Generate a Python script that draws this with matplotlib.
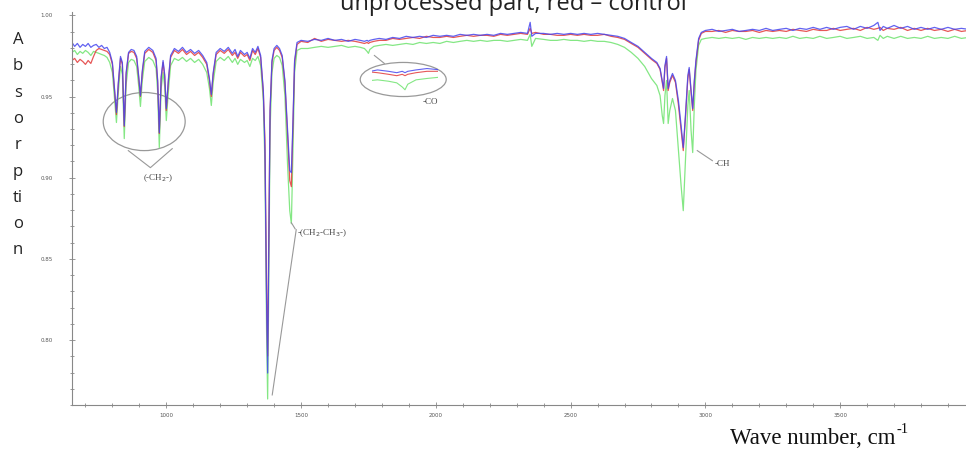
import matplotlib
matplotlib.use("Agg")
import matplotlib.pyplot as plt
from matplotlib.patches import Ellipse
from matplotlib.ticker import MultipleLocator, FormatStrFormatter

# wave numbers, cm-1
wave = [650, 660, 670, 680, 690, 700, 710, 720, 730, 740, 750, 760, 770, 780, 790,
        800, 808, 815, 822, 830, 837, 844, 851, 860, 870, 880, 890, 897, 904, 911,
        920, 935, 950, 962, 968, 974, 981, 988, 994, 1000, 1008, 1016, 1030, 1045,
        1060, 1075, 1090, 1105, 1120, 1135, 1150, 1160, 1167, 1174, 1185, 1200, 1215,
        1230, 1245, 1255, 1265, 1275, 1290, 1300, 1310, 1320, 1330, 1340, 1350, 1360,
        1366, 1372, 1376, 1380, 1385, 1392, 1400, 1410, 1420, 1430, 1440, 1450, 1458,
        1464, 1470, 1476, 1485, 1500, 1525, 1550, 1575, 1600, 1625, 1650, 1675, 1700,
        1720, 1735, 1745, 1750, 1755, 1770, 1790, 1815, 1840, 1865, 1890, 1915, 1940,
        1965, 1990, 2015, 2040, 2065, 2090, 2115, 2140, 2165, 2190, 2215, 2240, 2265,
        2290, 2315, 2340, 2350, 2356, 2370, 2400, 2425, 2450, 2475, 2500, 2525, 2550,
        2575, 2600, 2625, 2650, 2675, 2700, 2725, 2750, 2775, 2800, 2820, 2832, 2840,
        2845, 2850, 2856, 2862, 2868, 2878, 2889, 2900, 2910, 2918, 2926, 2935, 2940,
        2947, 2953, 2959, 2965, 2975, 2985, 3000, 3025, 3050, 3075, 3100, 3125, 3150,
        3175, 3200, 3225, 3250, 3275, 3300, 3325, 3350, 3375, 3400, 3425, 3450, 3475,
        3500, 3525, 3550, 3575, 3600, 3625, 3640, 3648, 3660, 3675, 3700, 3725, 3750,
        3775, 3800, 3825, 3850, 3875, 3900, 3925, 3950, 3975]

# blue - processed part
blue = [0.9833, 0.9809, 0.9827, 0.9803, 0.9821, 0.9809, 0.9827, 0.9803, 0.9815, 0.9821,
        0.9803, 0.9815, 0.9796, 0.9803, 0.9772, 0.9710, 0.9550, 0.9402, 0.9587, 0.9747,
        0.9710, 0.9321, 0.9648, 0.9772, 0.9790, 0.9784, 0.9747, 0.9636, 0.9506, 0.9660,
        0.9778, 0.9803, 0.9784, 0.9735, 0.9599, 0.9278, 0.9624, 0.9722, 0.9636, 0.9426,
        0.9611, 0.9753, 0.9796, 0.9778, 0.9803, 0.9772, 0.9790, 0.9766, 0.9784, 0.9753,
        0.9710, 0.9611, 0.9513, 0.9648, 0.9772, 0.9796, 0.9778, 0.9803, 0.9766, 0.9790,
        0.9747, 0.9784, 0.9759, 0.9772, 0.9735, 0.9796, 0.9772, 0.9809, 0.9753, 0.9537,
        0.9167, 0.8242, 0.7797, 0.8550, 0.9414, 0.9722, 0.9796, 0.9815, 0.9796, 0.9753,
        0.9599, 0.9290, 0.9044, 0.9031, 0.9352, 0.9722, 0.9833, 0.9846, 0.9840, 0.9852,
        0.9846, 0.9858, 0.9846, 0.9852, 0.9840, 0.9852, 0.9846, 0.9840, 0.9846, 0.9840,
        0.9846, 0.9852, 0.9858, 0.9852, 0.9864, 0.9858, 0.9871, 0.9864, 0.9871, 0.9864,
        0.9877, 0.9871, 0.9877, 0.9871, 0.9883, 0.9877, 0.9883, 0.9877, 0.9883, 0.9877,
        0.9889, 0.9883, 0.9889, 0.9895, 0.9889, 0.9957, 0.9871, 0.9889, 0.9889, 0.9883,
        0.9889, 0.9883, 0.9889, 0.9883, 0.9889, 0.9883, 0.9889, 0.9883, 0.9877, 0.9871,
        0.9858, 0.9833, 0.9809, 0.9772, 0.9735, 0.9710, 0.9673, 0.9599, 0.9550, 0.9691,
        0.9747, 0.9550, 0.9599, 0.9642, 0.9599, 0.9475, 0.9321, 0.9186, 0.9383, 0.9630,
        0.9679, 0.9537, 0.9426, 0.9599, 0.9722, 0.9858, 0.9895, 0.9907, 0.9914, 0.9901,
        0.9907, 0.9914, 0.9901, 0.9907, 0.9914, 0.9907, 0.9920, 0.9907, 0.9914, 0.9920,
        0.9907, 0.9920, 0.9914, 0.9926, 0.9914, 0.9926, 0.9914, 0.9926, 0.9932, 0.9914,
        0.9932, 0.9920, 0.9938, 0.9957, 0.9907, 0.9932, 0.9920, 0.9938, 0.9920, 0.9932,
        0.9914, 0.9926, 0.9914, 0.9926, 0.9914, 0.9926, 0.9914, 0.9920, 0.9914]

# red - control
red = [0.9722, 0.9735, 0.9710, 0.9729, 0.9716, 0.9698, 0.9722, 0.9704, 0.9747, 0.9784,
       0.9796, 0.9790, 0.9784, 0.9778, 0.9759, 0.9698, 0.9537, 0.9389, 0.9574, 0.9735,
       0.9698, 0.9315, 0.9636, 0.9766, 0.9778, 0.9772, 0.9735, 0.9624, 0.9500, 0.9648,
       0.9766, 0.9790, 0.9772, 0.9722, 0.9587, 0.9272, 0.9611, 0.9710, 0.9624, 0.9414,
       0.9599, 0.9741, 0.9784, 0.9766, 0.9790, 0.9759, 0.9778, 0.9753, 0.9772, 0.9741,
       0.9698, 0.9599, 0.9500, 0.9636, 0.9759, 0.9784, 0.9766, 0.9790, 0.9753, 0.9772,
       0.9735, 0.9772, 0.9747, 0.9759, 0.9722, 0.9784, 0.9759, 0.9796, 0.9741, 0.9525,
       0.9229, 0.8303, 0.7902, 0.8612, 0.9414, 0.9710, 0.9784, 0.9803, 0.9784, 0.9741,
       0.9587, 0.9260, 0.8982, 0.8945, 0.9321, 0.9710, 0.9821, 0.9840, 0.9833, 0.9858,
       0.9840, 0.9852, 0.9846, 0.9840, 0.9846, 0.9840, 0.9833, 0.9827, 0.9833, 0.9827,
       0.9833, 0.9840, 0.9846, 0.9846, 0.9858, 0.9852, 0.9858, 0.9864, 0.9858, 0.9871,
       0.9864, 0.9864, 0.9871, 0.9864, 0.9871, 0.9877, 0.9871, 0.9877, 0.9877, 0.9871,
       0.9883, 0.9877, 0.9883, 0.9889, 0.9883, 0.9920, 0.9889, 0.9895, 0.9883, 0.9883,
       0.9877, 0.9877, 0.9883, 0.9877, 0.9883, 0.9877, 0.9877, 0.9883, 0.9871, 0.9864,
       0.9852, 0.9827, 0.9803, 0.9766, 0.9729, 0.9704, 0.9667, 0.9587, 0.9537, 0.9679,
       0.9735, 0.9537, 0.9587, 0.9630, 0.9587, 0.9451, 0.9290, 0.9167, 0.9365, 0.9611,
       0.9667, 0.9525, 0.9414, 0.9587, 0.9710, 0.9846, 0.9889, 0.9901, 0.9901, 0.9907,
       0.9895, 0.9907, 0.9901, 0.9901, 0.9907, 0.9895, 0.9907, 0.9901, 0.9907, 0.9901,
       0.9914, 0.9907, 0.9901, 0.9914, 0.9907, 0.9907, 0.9920, 0.9907, 0.9914, 0.9920,
       0.9907, 0.9926, 0.9914, 0.9920, 0.9926, 0.9907, 0.9920, 0.9914, 0.9926, 0.9907,
       0.9920, 0.9907, 0.9920, 0.9907, 0.9914, 0.9901, 0.9914, 0.9901, 0.9907]

# green - unprocessed part
green = [0.9772, 0.9784, 0.9759, 0.9778, 0.9766, 0.9784, 0.9772, 0.9753, 0.9778, 0.9772,
         0.9766, 0.9759, 0.9753, 0.9741, 0.9710, 0.9648, 0.9488, 0.9340, 0.9525, 0.9685,
         0.9636, 0.9241, 0.9574, 0.9710, 0.9729, 0.9722, 0.9685, 0.9574, 0.9439, 0.9599,
         0.9716, 0.9741, 0.9722, 0.9673, 0.9525, 0.9186, 0.9550, 0.9648, 0.9562, 0.9352,
         0.9537, 0.9691, 0.9735, 0.9722, 0.9741, 0.9716, 0.9735, 0.9710, 0.9729, 0.9698,
         0.9648, 0.9550, 0.9445, 0.9587, 0.9716, 0.9741, 0.9722, 0.9747, 0.9710, 0.9735,
         0.9698, 0.9729, 0.9710, 0.9722, 0.9685, 0.9735, 0.9722, 0.9747, 0.9691, 0.9475,
         0.9075, 0.8057, 0.7637, 0.8303, 0.9290, 0.9648, 0.9735, 0.9753, 0.9741, 0.9691,
         0.9506, 0.9075, 0.8797, 0.8717, 0.9167, 0.9648, 0.9784, 0.9796, 0.9796, 0.9803,
         0.9809, 0.9803, 0.9809, 0.9815, 0.9803, 0.9809, 0.9803, 0.9796, 0.9778, 0.9766,
         0.9790, 0.9809, 0.9815, 0.9821, 0.9815, 0.9821, 0.9827, 0.9821, 0.9833, 0.9827,
         0.9833, 0.9827, 0.9840, 0.9833, 0.9840, 0.9846, 0.9840, 0.9846, 0.9840, 0.9846,
         0.9846, 0.9840, 0.9846, 0.9852, 0.9846, 0.9883, 0.9809, 0.9858, 0.9852, 0.9846,
         0.9846, 0.9852, 0.9846, 0.9846, 0.9840, 0.9846, 0.9840, 0.9840, 0.9833, 0.9821,
         0.9803, 0.9772, 0.9735, 0.9685, 0.9611, 0.9568, 0.9506, 0.9383, 0.9334, 0.9506,
         0.9599, 0.9334, 0.9414, 0.9488, 0.9414, 0.9167, 0.8951, 0.8797, 0.9105, 0.9445,
         0.9537, 0.9290, 0.9155, 0.9445, 0.9660, 0.9815, 0.9852, 0.9858, 0.9864, 0.9858,
         0.9864, 0.9858, 0.9864, 0.9852, 0.9864, 0.9858, 0.9864, 0.9858, 0.9864, 0.9858,
         0.9871, 0.9858, 0.9864, 0.9858, 0.9871, 0.9858, 0.9864, 0.9871, 0.9858, 0.9864,
         0.9871, 0.9858, 0.9864, 0.9846, 0.9877, 0.9858, 0.9871, 0.9858, 0.9871, 0.9858,
         0.9864, 0.9858, 0.9871, 0.9858, 0.9864, 0.9858, 0.9871, 0.9858, 0.9864]

letters = ["A", "b", "s", "o", "r", "p", "ti", "o", "n"]

fig = plt.figure(figsize=(9.66, 4.49), dpi=100)
ax = fig.add_axes([0.0745, 0.098, 0.9255, 0.875])

for ys, col in [(green, "#6fe36f"), (red, "#e23a3a"), (blue, "#4646ee")]:
    ax.plot(wave, ys, color=col, lw=0.9, alpha=0.85)

ax.set_xlim(650, 3967)
ax.set_ylim(0.76, 1.002)
for s in ["top", "right"]:
    ax.spines[s].set_visible(False)
for s in ["left", "bottom"]:
    ax.spines[s].set_color("#888888")
    ax.spines[s].set_linewidth(0.8)
ax.xaxis.set_major_locator(MultipleLocator(500))
ax.xaxis.set_minor_locator(MultipleLocator(100))
ax.yaxis.set_major_locator(MultipleLocator(0.05))
ax.yaxis.set_minor_locator(MultipleLocator(0.01))
ax.yaxis.set_major_formatter(FormatStrFormatter("%.2f"))
ax.tick_params(which="both", direction="inout", colors="#888888", width=0.6,
               labelsize=4, labelcolor="#555555")
ax.tick_params(which="major", length=4)
ax.tick_params(which="minor", length=3)
ax.tick_params(axis="y", pad=12)
ax.tick_params(axis="x", pad=4)

ann = dict(color="#999999", lw=0.8)
txt = dict(family="Liberation Serif", fontsize=6.5, color="#444444")

# (-CH2-) group
ax.add_patch(Ellipse((918, 0.9346), 304, 0.0358, fill=False, ec="#999999", lw=0.9))
ax.plot([859, 941, 1022], [0.9167, 0.9062, 0.9179], **ann)
ax.text(970, 0.9000, "(-CH$_2$-)", ha="center", va="center", **txt)

# -(CH2-CH3-)
ax.plot([1393, 1482], [0.7662, 0.8680], **ann)
ax.plot([1464, 1478], [0.8723, 0.8685], **ann)
ax.text(1486, 0.8661, "-(CH$_2$-CH$_3$-)", ha="left", va="center", **txt)

# -CO with magnified view
ax.add_patch(Ellipse((1879, 0.9605), 319, 0.021, fill=False, ec="#999999", lw=0.9))
ax.plot([1772, 1809], [0.9753, 0.9704], **ann)
ax.text(1979, 0.9469, "-CO", ha="center", va="center", **txt)
ins = fig.add_axes([372 / 966, 1 - 93 / 449, 66 / 966, 27 / 449])
for ys, col in [(green, "#6fe36f"), (red, "#e23a3a"), (blue, "#4646ee")]:
    ins.plot(wave, ys, color=col, lw=0.8, alpha=0.85)
ins.set_xlim(1690, 1810)
ins.set_ylim(0.9752, 0.9869)
ins.axis("off")

# -CH
ax.plot([2970, 3026], [0.9167, 0.9105], **ann)
ax.text(3062, 0.9087, "-CH", ha="center", va="center", **txt)

fig.text(513 / 966, 1 - 9.5 / 449, "unprocessed part, red \u2013 control",
         ha="center", va="baseline", fontsize=17, family="Open Sans", color="#222222")
for i, s in enumerate(letters):
    fig.text(18 / 966, 1 - (40 + 26.3 * i) / 449, s, ha="center", va="center",
             fontsize=12, family="Open Sans", color="#222222")

xl = fig.text(730 / 966, 1 - 444 / 449, "Wave number, cm", ha="left", va="baseline",
              fontsize=16.5, family="Liberation Serif", color="#111111")
fig.canvas.draw()
bb = xl.get_window_extent()
fig.text(bb.x1 / 966 + 0.001, 1 - 433 / 449, "-1", ha="left", va="baseline",
         fontsize=10.5, family="Liberation Serif", color="#111111")

fig.savefig("out.png", dpi=100)
